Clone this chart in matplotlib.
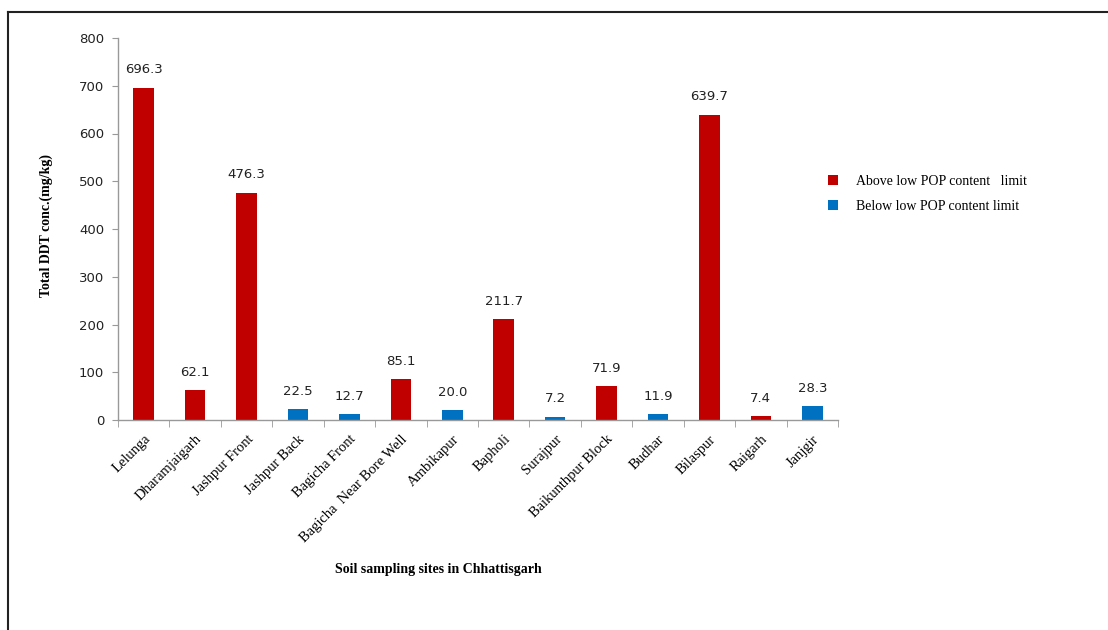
import matplotlib
matplotlib.use("Agg")
import matplotlib.pyplot as plt
from matplotlib.patches import Patch
from matplotlib.lines import Line2D

sites = ["Lelunga", "Dharamjaigarh", "Jashpur Front", "Jashpur Back", "Bagicha Front",
         "Bagicha  Near Bore Well", "Ambikapur", "Bapholi", "Surajpur", "Baikunthpur Block",
         "Budhar", "Bilaspur", "Raigarh", "Janjgir"]
values = [696.3, 62.1, 476.3, 22.5, 12.7, 85.1, 20.0, 211.7, 7.2, 71.9, 11.9, 639.7, 7.4, 28.3]
above = [True, True, True, False, False, True, False, True, False, True, False, True, True, False]
legend_labels = ["Above low POP content   limit", "Below low POP content limit"]
yticks = [0, 100, 200, 300, 400, 500, 600, 700, 800]

RED = "#C00000"
BLUE = "#0070C0"
GREY = "#999999"

fig = plt.figure(figsize=(11.08, 6.30), dpi=100)
ax = fig.add_axes([118/1108, 1-420/630, 720/1108, 382/630])

colors = [RED if a else BLUE for a in above]
x = list(range(len(sites)))
ax.bar(x, values, width=0.4, color=colors)
for xi, v in zip(x, values):
    ax.annotate(f"{v:.1f}", (xi, v), xytext=(0, 8), textcoords="offset points",
                ha="center", va="bottom", fontsize=9.5, family="DejaVu Sans",
                color="#222222")

ax.set_xlim(-0.5, len(sites) - 0.5)
ax.set_ylim(0, 800)
ax.set_yticks(yticks)
ax.set_yticklabels([str(t) for t in yticks], fontsize=9.5, family="DejaVu Sans", color="#222222")
ax.tick_params(axis="y", direction="out", length=4, color=GREY, pad=6)

ax.set_xticks(x)
ax.set_xticklabels(sites, rotation=45, ha="right", rotation_mode="anchor",
                   fontsize=10.5, family="Liberation Serif")
ax.tick_params(axis="x", length=0, pad=9)
ax.set_xticks([i - 0.5 for i in range(len(sites) + 1)], minor=True)
ax.tick_params(axis="x", which="minor", direction="out", length=5, color=GREY)

for s in ["top", "right"]:
    ax.spines[s].set_visible(False)
for s in ["left", "bottom"]:
    ax.spines[s].set_color(GREY)
    ax.spines[s].set_linewidth(1.0)

fig.text(46/1108, 1-225/630, "Total DDT conc.(mg/kg)", rotation=90, ha="center", va="center",
         fontsize=10, fontweight="bold", family="Liberation Serif")
fig.text(438/1108, 1-570/630, "Soil sampling sites in Chhattisgarh", ha="center", va="center",
         fontsize=10, fontweight="bold", family="Liberation Serif")

handles = [Patch(facecolor=RED), Patch(facecolor=BLUE)]
fig.legend(handles, legend_labels, loc="center left", bbox_to_anchor=(815/1108, 1-194/630),
           frameon=False, prop={"family": "Liberation Serif", "size": 10},
           handlelength=0.75, handleheight=0.75, handletextpad=1.3, labelspacing=0.9)

# outer border (top and left)
fig.add_artist(Line2D([8/1108, 1.0], [1-12/630, 1-12/630], transform=fig.transFigure,
                      color="#222222", linewidth=1.5))
fig.add_artist(Line2D([8/1108, 8/1108], [0, 1-12/630], transform=fig.transFigure,
                      color="#222222", linewidth=1.5))

fig.savefig("out.png", dpi=100)
